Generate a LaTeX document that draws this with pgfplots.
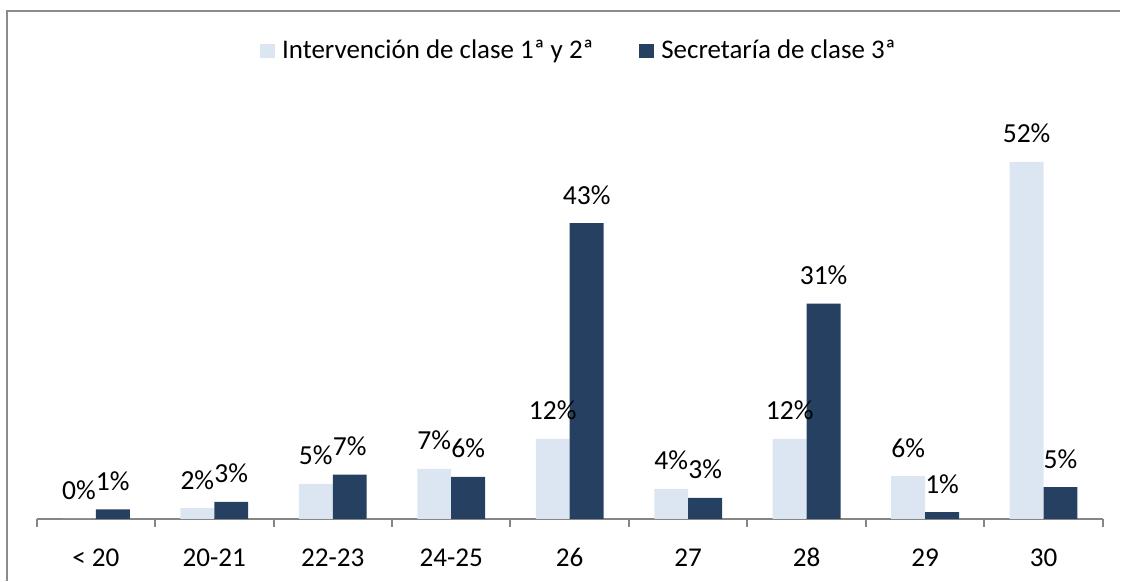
\documentclass[border=0pt]{standalone}
\usepackage{fontspec}
\setmainfont{Carlito}
\usepackage{pgfplots}
\usepackage{pgfplotstable}
\pgfplotsset{compat=1.18}
\definecolor{lightbar}{HTML}{DCE6F2}
\definecolor{darkbar}{HTML}{254061}
\definecolor{axisgray}{HTML}{868686}
\definecolor{framegray}{HTML}{8C8C8C}

\pgfplotstableread{
x y lbl
0 0.0 0\%
1 1.56 2\%
2 5.09 5\%
3 7.27 7\%
4 11.63 12\%
5 4.36 4\%
6 11.63 12\%
7 6.2 6\%
8 52.0 52\%
}\seriesA
\pgfplotstableread{
x y lbl
0 1.35 1\%
1 2.47 3\%
2 6.44 7\%
3 6.1 6\%
4 43.07 43\%
5 3.05 3\%
6 31.35 31\%
7 0.97 1\%
8 4.6 5\%
}\seriesB

\begin{document}
\begin{tikzpicture}
\begin{axis}[
  at={(0,0)}, anchor=south west,
  x=59.375pt, y=3.44pt,
  xmin=-0.5, xmax=8.5, ymin=0, ymax=60,
  ybar=0pt, bar width=17pt,
  axis y line=none, axis x line*=bottom,
  x axis line style={draw=axisgray, line width=1pt},
  xtick={0,...,8},
  xticklabels={{< 20},{20-21},{22-23},{24-25},{26},{27},{28},{29},{30}},
  major x tick style={draw=none},
  extra x ticks={-0.5,0.5,1.5,2.5,3.5,4.5,5.5,6.5,7.5,8.5},
  extra x tick labels={},
  extra x tick style={tick align=outside, major tick length=4pt,
     major x tick style={draw=axisgray, line width=1pt}},
  xticklabel style={font=\fontsize{13.6}{16}\selectfont, anchor=north,
     text height=9pt, text depth=2pt, yshift=-7.2pt},
  point meta=explicit symbolic,
  nodes near coords,
  nodes near coords style={font=\fontsize{13.8}{16}\selectfont, anchor=base, yshift=9.5pt, text=black},
  legend columns=2,
  legend style={at={(0.2093,1.136)}, anchor=west, draw=none, fill=none,
     inner sep=0pt, font=\fontsize{13.5}{16}\selectfont,
     /tikz/every even column/.append style={column sep=21pt}},
  legend image code/.code={\fill[#1] (0pt,-3.6pt) rectangle (7.25pt,3.6pt); \path (9pt,0pt);},
  clip=false,
]
\addplot[fill=lightbar, draw=none] table[x=x, y=y, meta=lbl] {\seriesA};
\addplot[fill=darkbar, draw=none] table[x=x, y=y, meta=lbl] {\seriesB};
\legend{Intervención de clase 1ª y 2ª, Secretaría de clase 3ª}
\end{axis}
\draw[framegray, line width=1pt] (-14.85pt,-31pt) -- (-14.85pt,254.5pt) -- (543pt,254.5pt);
\path (-18.35pt,-30.5pt) rectangle (542.15pt,260pt);
\end{tikzpicture}
\end{document}
